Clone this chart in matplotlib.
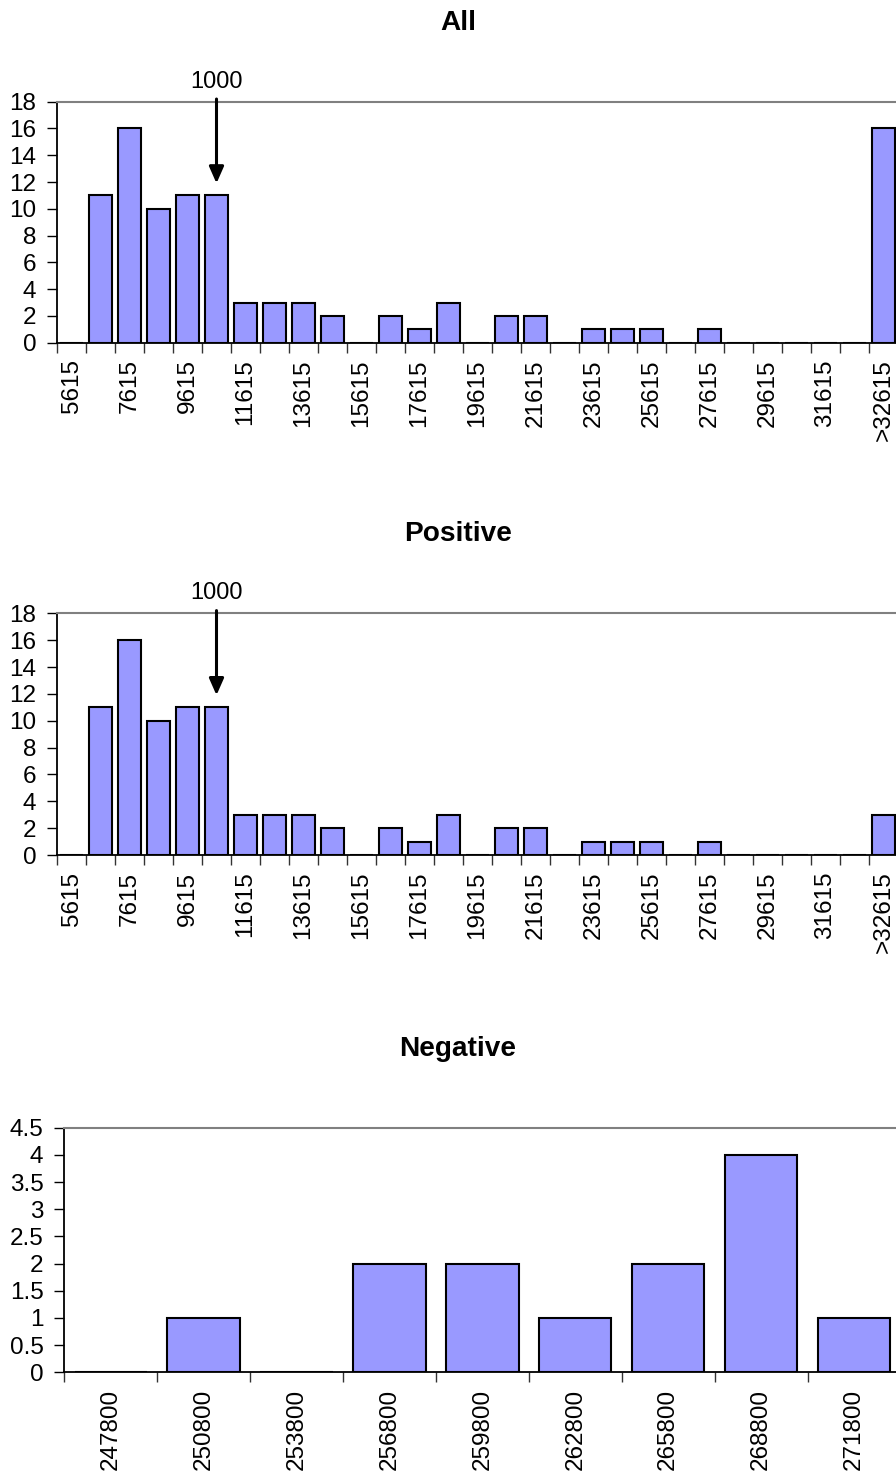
import matplotlib
matplotlib.use("Agg")
import matplotlib.pyplot as plt
import numpy as np

plt.rcParams['font.family'] = ['Liberation Sans', 'DejaVu Sans']

# ---- data ----
pos_bins = [str(5615 + 1000 * i) for i in range(28)] + ['>32615']
all_counts = [0, 11, 16, 10, 11, 11, 3, 3, 3, 2, 0, 2, 1, 3, 0, 2, 2, 0, 1, 1, 1, 0, 1, 0, 0, 0, 0, 0, 16]
positive_counts = [0, 11, 16, 10, 11, 11, 3, 3, 3, 2, 0, 2, 1, 3, 0, 2, 2, 0, 1, 1, 1, 0, 1, 0, 0, 0, 0, 0, 3]
neg_bins = ['247800', '250800', '253800', '256800', '259800', '262800', '265800', '268800', '271800']
negative_counts = [0, 1, 0, 2, 2, 1, 2, 4, 1]
marker_label = '1000'
marker_bin = 5
marker_tip = 11.9

W, H = 896, 1477
fig = plt.figure(figsize=(W / 100, H / 100), dpi=100)

BAR = '#9999FF'
TICK_FS = 17.5
ANN_FS = 17
TITLE_FS = 20.2


def make_axes(l, r, t, b):
    return fig.add_axes([l / W, 1 - b / H, (r - l) / W, (b - t) / H])


def style(ax, labels, counts, width, ymax, ystep, label_every):
    n = len(labels)
    x = np.arange(n)
    ax.bar(x, counts, width=width, color=BAR, edgecolor='black', linewidth=1.5, zorder=3)
    ax.set_xlim(-0.5, n - 0.5)
    ax.set_ylim(0, ymax)
    yt = np.arange(0, ymax + ystep / 2, ystep)
    ax.set_yticks(yt)
    ax.set_yticklabels([('%g' % v) for v in yt], fontsize=TICK_FS)
    ax.tick_params(axis='y', direction='out', length=7, width=1, pad=8, colors='black')
    # category boundary ticks
    ax.set_xticks(np.arange(-0.5, n, 1.0))
    ax.set_xticklabels([])
    ax.tick_params(axis='x', which='major', direction='out', length=7, width=1, color='#333333')
    # labels at category centers
    idx = list(range(0, n, label_every))
    ax.set_xticks(idx, minor=True)
    ax.set_xticklabels([labels[i] for i in idx], minor=True, rotation=90, fontsize=TICK_FS)
    ax.tick_params(axis='x', which='minor', length=0, pad=12)
    for s in ['left', 'bottom']:
        ax.spines[s].set_color('black')
        ax.spines[s].set_linewidth(1.3)
    ax.spines['top'].set_color('#808080')
    ax.spines['top'].set_linewidth(1.5)
    ax.spines['right'].set_visible(False)


def add_marker(ax):
    ax.annotate('', xy=(marker_bin, marker_tip), xytext=(marker_bin, 18.2),
                arrowprops=dict(arrowstyle='-|>,head_length=0.5,head_width=0.22',
                                mutation_scale=20, lw=2.2, color='black',
                                shrinkA=0, shrinkB=0),
                annotation_clip=False, zorder=5)
    ax.text(marker_bin, 19.5, marker_label, ha='center', va='center',
            fontsize=ANN_FS, clip_on=False)


# All
ax1 = make_axes(57, 898, 101.7, 342.7)
style(ax1, pos_bins, all_counts, 0.82, 18, 2, 2)
add_marker(ax1)
fig.text(458 / W, 1 - 23 / H, 'All', ha='center', va='center', fontsize=TITLE_FS, fontweight='bold')

# Positive
ax2 = make_axes(57, 898, 613.3, 855)
style(ax2, pos_bins, positive_counts, 0.82, 18, 2, 2)
add_marker(ax2)
fig.text(458 / W, 1 - 534 / H, 'Positive', ha='center', va='center', fontsize=TITLE_FS, fontweight='bold')

# Negative
ax3 = make_axes(64.3, 900.4, 1127.7, 1372.3)
style(ax3, neg_bins, negative_counts, 0.78, 4.5, 0.5, 1)
fig.text(458 / W, 1 - 1049 / H, 'Negative', ha='center', va='center', fontsize=TITLE_FS, fontweight='bold')

fig.savefig('out.png', dpi=100, facecolor='white')
